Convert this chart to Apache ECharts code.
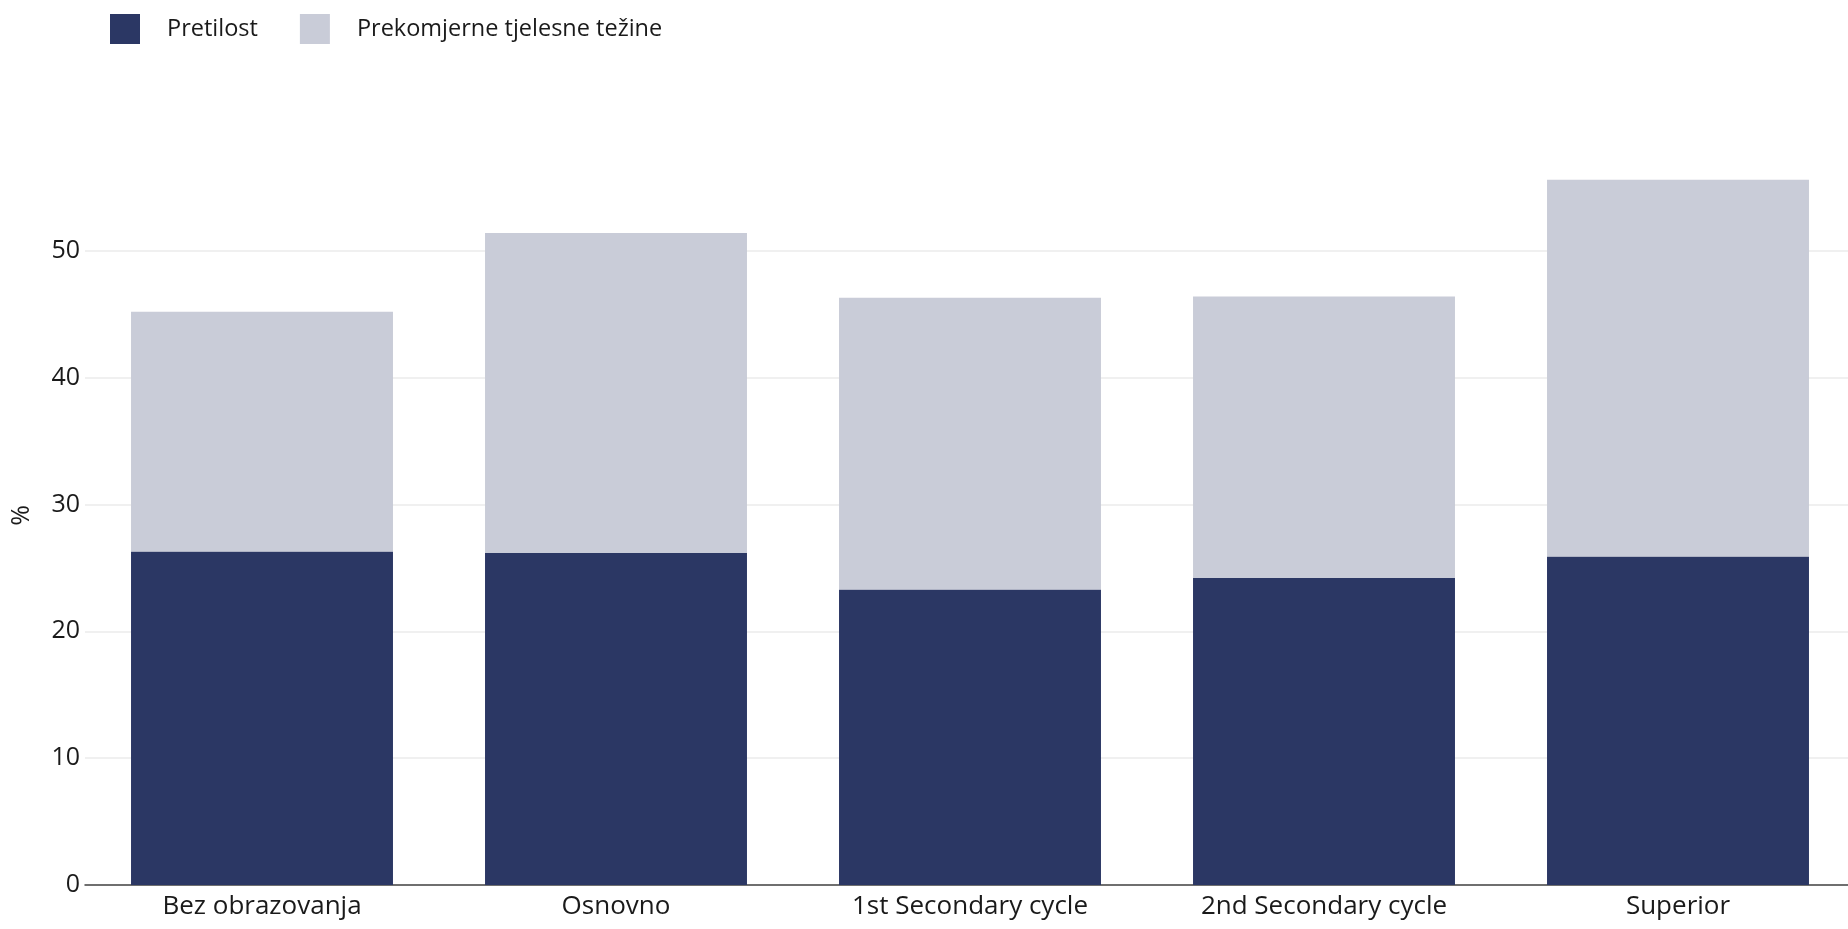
<!DOCTYPE html>
<html>
<head>
<meta charset="utf-8">
<script src="https://cdn.jsdelivr.net/npm/echarts@6/dist/echarts.min.js"></script>
<style>html,body{margin:0;padding:0;background:#fff}#c{width:1848px;height:929px}</style>
</head>
<body>
<div id="c"></div>
<script>
var categories = ['Bez obrazovanja', 'Osnovno', '1st Secondary cycle', '2nd Secondary cycle', 'Superior'];
var pretilost = [26.3, 26.2, 23.3, 24.2, 25.9];
var prekomjerne = [18.9, 25.2, 23.0, 22.2, 29.7];
var yTicks = [0, 10, 20, 30, 40, 50];

var chart = echarts.init(document.getElementById('c'));
var font = 'Open Sans';
chart.setOption({
  animation: false,
  textStyle: { fontFamily: font },
  legend: {
    left: 110, top: 14, padding: 0,
    itemWidth: 30, itemHeight: 30, itemGap: 42,
    icon: 'rect',
    textStyle: { fontFamily: font, fontSize: 23.5, color: '#1a1a1a', padding: [5, 0, 0, 22] },
    data: ['Pretilost', 'Prekomjerne tjelesne težine']
  },
  grid: { left: 85, right: -7, top: 124, bottom: 44, containLabel: false, outerBoundsMode: 'none' },
  xAxis: {
    type: 'category',
    data: categories,
    axisLine: { lineStyle: { color: '#444', width: 1.5 } },
    axisTick: { show: false },
    axisLabel: { fontFamily: font, fontSize: 26, color: '#1a1a1a', margin: 9 }
  },
  yAxis: {
    type: 'value',
    min: 0, max: 60, interval: 10,
    name: '%', nameLocation: 'middle', nameGap: 51, nameRotate: 90,
    nameTextStyle: { fontFamily: font, fontSize: 25, color: '#1a1a1a', padding: [0, 22, 0, 0] },
    axisLine: { show: false },
    axisTick: { show: false },
    axisLabel: {
      fontFamily: font, fontSize: 25, color: '#1a1a1a', margin: 5, showMaxLabel: false,
      formatter: function (v) { return yTicks.indexOf(v) >= 0 ? String(v) : ''; }
    },
    splitLine: { showMaxLine: false, lineStyle: { color: '#ebebeb', width: 1.5 } }
  },
  series: [
    {
      name: 'Pretilost', type: 'bar', stack: 'a', data: pretilost,
      barCategoryGap: '26%',
      itemStyle: { color: '#2b3764' }
    },
    {
      name: 'Prekomjerne tjelesne težine', type: 'bar', stack: 'a', data: prekomjerne,
      barCategoryGap: '26%',
      itemStyle: { color: '#c9ccd8' }
    }
  ]
});
</script>
</body>
</html>
